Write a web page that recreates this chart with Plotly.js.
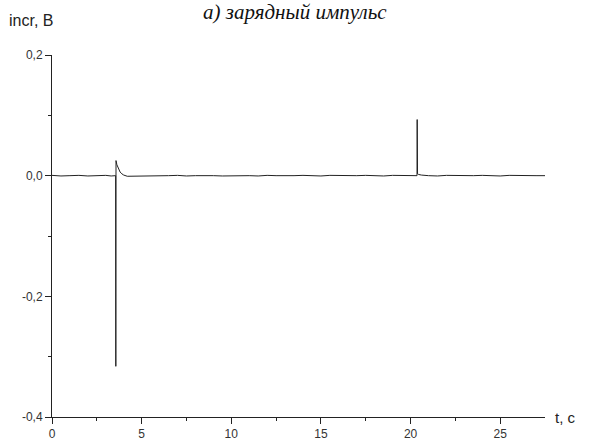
<!DOCTYPE html>
<html><head><meta charset="utf-8">
<script src="https://cdn.plot.ly/plotly-3.0.1.min.js"></script>
<style>html,body{margin:0;padding:0;background:#fff}#c{width:593px;height:445px}</style>
</head><body><div id="c"></div>
<script>
const tVals = [0,0.5,1,1.5,2,2.5,3,3.3,3.5,3.55,3.56,3.57,3.62,3.7,3.8,3.9,4.0,4.2,4.5,5,5.5,6,6.5,7,7.5,8,8.5,9,9.5,10,10.5,11,11.5,12,12.5,13,13.5,14,14.5,15,15.5,16,16.5,17,17.5,18,18.5,19,19.5,20,20.3,20.36,20.37,20.39,20.45,20.6,21,21.5,22,22.5,23,23.5,24,24.5,25,25.5,26,26.5,27,27.5];
const incr = [0.0005,-0.0005,0.0,0.0005,-0.0005,0.0,0.0005,-0.0005,0.0,0.0,-0.316,0.025,0.018,0.011,0.006,0.003,0.001,-0.001,-0.001,-0.0005,0.0,-0.0005,0.0,0.0005,-0.0005,0.0,0.0005,0.0,-0.0005,0.0,0.0005,0.0,-0.0005,0.0005,0.0,-0.0005,0.0,0.0005,0.0,-0.0005,0.0005,0.0,-0.0005,0.0,0.0005,0.0,-0.0005,0.0005,0.0,-0.0005,0.0,0.0,0.093,0.003,0.002,0.001,0.0,-0.0005,0.0005,0.0,-0.0005,0.0,0.0005,0.0,-0.0005,0.0005,0.0,-0.0005,0.0,0.0];
const xTicks = [0,5,10,15,20,25];
const xTickText = ['0','5','10','15','20','25'];
const yTicks = [-0.4,-0.2,0.0,0.2];
const yTickText = ['-0,4','-0,2','0,0','0,2'];
const titleText = 'а) зарядный импульс';
const yTitle = 'incr, B';
const xTitle = 't, c';

const tickFont = {family:'Liberation Sans, Arial, sans-serif', size:12, color:'#333'};
Plotly.newPlot('c', [{
  x: tVals, y: incr, type:'scatter', mode:'lines',
  line:{color:'#222', width:1}, hoverinfo:'skip'
}], {
  width:593, height:445,
  margin:{l:52, r:48, t:55, b:28},
  paper_bgcolor:'#fff', plot_bgcolor:'#fff',
  showlegend:false,
  xaxis:{range:[0,27.5], showgrid:false, zeroline:false, showline:true, linecolor:'#222', linewidth:1,
    ticks:'outside', ticklen:6, tickcolor:'#222', tickvals:xTicks, ticktext:xTickText, tickfont:tickFont,
    minor:{tickvals:[2.5,7.5,12.5,17.5,22.5], ticks:'outside', ticklen:3, tickcolor:'#222'}},
  yaxis:{range:[-0.4,0.2], showgrid:false, zeroline:false, showline:true, linecolor:'#222', linewidth:1,
    ticks:'outside', ticklen:6, tickcolor:'#222', tickvals:yTicks, ticktext:yTickText, tickfont:tickFont,
    minor:{tickvals:[-0.3,-0.1,0.1], ticks:'outside', ticklen:3, tickcolor:'#222'}},
  annotations:[
    {text:'<i>'+titleText+'</i>', xref:'paper', yref:'paper', x:0.5, xshift:-4, y:1, yshift:43, xanchor:'center', yanchor:'middle', showarrow:false,
     font:{family:'Liberation Serif, Times New Roman, serif', size:21, color:'#111'}},
    {text:yTitle, xref:'paper', yref:'paper', x:0, xshift:-45, y:1, yshift:35, xanchor:'left', yanchor:'middle', showarrow:false,
     font:{family:'Liberation Sans, Arial, sans-serif', size:16, color:'#222'}},
    {text:xTitle, xref:'paper', yref:'paper', x:1, xshift:8, y:0, xanchor:'left', yanchor:'middle', showarrow:false,
     font:{family:'Liberation Sans, Arial, sans-serif', size:15, color:'#222'}}
  ]
}, {staticPlot:true});
</script></body></html>
